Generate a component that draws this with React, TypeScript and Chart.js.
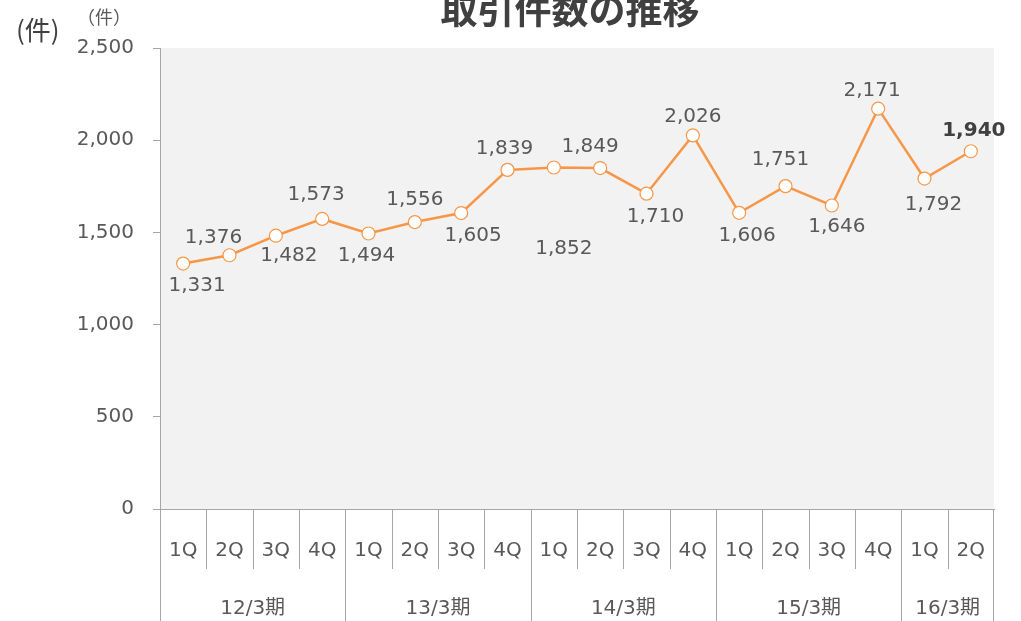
import React, { useEffect, useRef } from "react";
import { Chart, registerables } from "chart.js";

Chart.register(...registerables);

// ---- data ----
const quarters = ["1Q", "2Q", "3Q", "4Q", "1Q", "2Q", "3Q", "4Q", "1Q", "2Q", "3Q", "4Q", "1Q", "2Q", "3Q", "4Q", "1Q", "2Q"];
const fiscalYears = ["12/3期", "13/3期", "14/3期", "15/3期", "16/3期"];
const quartersPerYear = [4, 4, 4, 4, 2];
const transactions = [1331, 1376, 1482, 1573, 1494, 1556, 1605, 1839, 1852, 1849, 1710, 2026, 1606, 1751, 1646, 2171, 1792, 1940];
const yMin = 0;
const yMax = 2500;
const yStep = 500;

// ---- label placement (manually placed labels in the source) ----
const labelDx = [14, -16, 13, -6, -2, 0, 12, -3, 10, -10, 9, 0, 8, -5, 5, -6, 9, 3];
const labelDy = [22, -17, 20, -24, 22, -22, 23, -21, 81, -21, 23, -19, 23, -26, 21, -18, 26, -20];
const boldLabelIndex = 17;

const titleText = "取引件数の推移";
const unitBig = "(件)";
const unitSmall = "（件）";

const FONT = "'DejaVu Sans', 'Noto Sans CJK JP', sans-serif";
const CJK = "'Noto Sans CJK JP', 'DejaVu Sans', sans-serif";
const TEXT = "#595959";
const AXIS = "#a6a6a6";
const ORANGE = "#f79646";

const fmt = (v: number) => v.toLocaleString("en-US");

const decorPlugin = {
  id: "decor",
  beforeDraw(chart: any) {
    const { ctx, chartArea } = chart;
    ctx.save();
    ctx.fillStyle = "#f2f2f2";
    ctx.fillRect(chartArea.left, chartArea.top, chartArea.right - chartArea.left, chartArea.bottom - chartArea.top);
    ctx.restore();
  },
  afterDatasetsDraw(chart: any) {
    const { ctx } = chart;
    const meta = chart.getDatasetMeta(0);
    ctx.save();
    ctx.textAlign = "center";
    ctx.textBaseline = "middle";
    meta.data.forEach((pt: any, i: number) => {
      const bold = i === boldLabelIndex;
      ctx.font = `${bold ? "bold " : ""}20px ${FONT}`;
      ctx.fillStyle = bold ? "#404040" : TEXT;
      ctx.fillText(fmt(transactions[i]), pt.x + labelDx[i], pt.y + labelDy[i]);
    });
    ctx.restore();
  },
  afterDraw(chart: any) {
    const { ctx, chartArea } = chart;
    const xs = chart.scales.x;
    const half = (xs.getPixelForValue(1) - xs.getPixelForValue(0)) / 2;
    const bottom = chart.height;
    ctx.save();
    ctx.strokeStyle = AXIS;
    ctx.lineWidth = 1;
    // quarter labels and separators
    ctx.font = `20px ${FONT}`;
    ctx.fillStyle = TEXT;
    ctx.textAlign = "center";
    ctx.textBaseline = "middle";
    const yearStarts: number[] = [];
    let acc = 0;
    quartersPerYear.forEach((n) => {
      yearStarts.push(acc);
      acc += n;
    });
    quarters.forEach((q, i) => {
      const cx = xs.getPixelForValue(i);
      ctx.fillText(q, cx, chartArea.bottom + 42);
      const lx = Math.round(cx - half) + 0.5;
      const isYearStart = yearStarts.includes(i);
      ctx.beginPath();
      ctx.moveTo(lx, chartArea.bottom);
      ctx.lineTo(lx, isYearStart ? bottom : chartArea.bottom + 60);
      ctx.stroke();
    });
    const rx = Math.round(xs.getPixelForValue(quarters.length - 1) + half) - 0.5;
    ctx.beginPath();
    ctx.moveTo(rx, chartArea.bottom);
    ctx.lineTo(rx, bottom);
    ctx.stroke();
    // fiscal year labels
    fiscalYears.forEach((fy, k) => {
      const s = yearStarts[k];
      const e = s + quartersPerYear[k] - 1;
      const cx = (xs.getPixelForValue(s) + xs.getPixelForValue(e)) / 2;
      ctx.fillText(fy, cx, chartArea.bottom + 100);
    });
    // title
    ctx.font = `bold 37px ${CJK}`;
    ctx.fillStyle = "#404040";
    ctx.textBaseline = "alphabetic";
    ctx.fillText(titleText, (chartArea.left + chartArea.right) / 2 - 7, 24);
    // units
    ctx.textAlign = "left";
    ctx.font = `26px ${CJK}`;
    ctx.fillStyle = "#404040";
    ctx.textBaseline = "middle";
    ctx.fillText(unitBig, 16, 30);
    ctx.font = `18px ${CJK}`;
    ctx.fillStyle = TEXT;
    ctx.fillText(unitSmall, 77, 17);
    ctx.restore();
  },
};

export default function App() {
  const ref = useRef<HTMLCanvasElement | null>(null);
  useEffect(() => {
    document.body.style.margin = "0";
    if (!ref.current) return;
    const chart = new Chart(ref.current, {
      type: "line",
      data: {
        labels: quarters.map((q, i) => `${q}-${i}`),
        datasets: [
          {
            data: transactions,
            borderColor: ORANGE,
            borderWidth: 2.5,
            pointRadius: 6.5,
            pointBackgroundColor: "#ffffff",
            pointBorderColor: ORANGE,
            pointBorderWidth: 1.2,
            tension: 0,
            clip: false as any,
          },
        ],
      },
      options: {
        responsive: false,
        animation: false,
        layout: { padding: { top: 48, right: 27, left: 0, bottom: 0 } },
        plugins: { legend: { display: false }, tooltip: { enabled: false }, title: { display: false } },
        scales: {
          x: {
            offset: true,
            grid: { display: false },
            ticks: { display: false },
            border: { display: true, color: AXIS },
            afterFit: (s: any) => {
              s.height = 112;
            },
          },
          y: {
            min: yMin,
            max: yMax,
            ticks: {
              stepSize: yStep,
              color: TEXT,
              font: { family: FONT, size: 20 },
              padding: 19,
              callback: (v: any) => fmt(Number(v)),
            },
            grid: { drawOnChartArea: false, drawTicks: true, tickLength: 7, color: AXIS },
            border: { color: AXIS },
            afterFit: (s: any) => {
              s.width = 160;
            },
          },
        },
      },
      plugins: [decorPlugin],
    });
    return () => chart.destroy();
  }, []);
  return (
    <div style={{ width: 1021, height: 621 }}>
      <canvas ref={ref} width={1021} height={621} style={{ display: "block" }} />
    </div>
  );
}
